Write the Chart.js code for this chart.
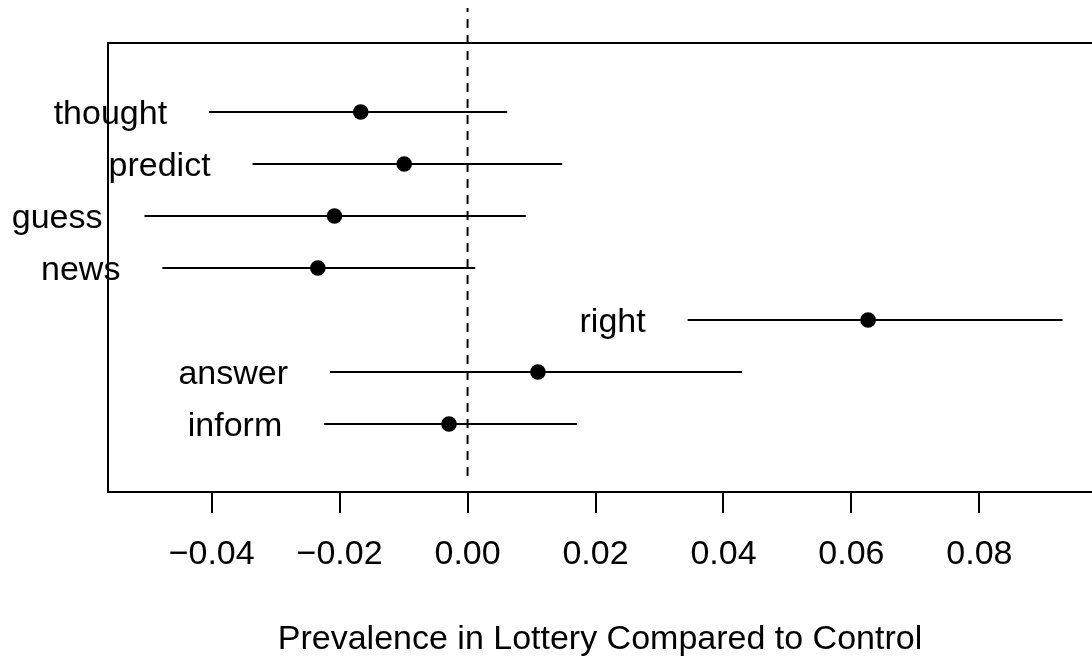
<!DOCTYPE html>
<html><head><meta charset="utf-8">
<script src="https://cdn.jsdelivr.net/npm/chart.js@4.4.1/dist/chart.umd.min.js"></script>
<style>html,body{margin:0;padding:0;overflow:hidden;background:#fff}</style>
</head><body>
<canvas id="c" width="1092" height="661" style="display:block;width:1092px;height:661px"></canvas>
<script>
const terms = ['thought', 'predict', 'guess', 'news', 'right', 'answer', 'inform'];
const estimates = [-0.0167, -0.0099, -0.0208, -0.0234, 0.0626, 0.0110, -0.0029];
const lowerCI = [-0.0404, -0.0336, -0.0505, -0.0477, 0.0344, -0.0215, -0.0224];
const upperCI = [0.0062, 0.0148, 0.0091, 0.0012, 0.0930, 0.0429, 0.0171];
const tickValues = [-0.04, -0.02, 0, 0.02, 0.04, 0.06, 0.08];
const tickLabels = ['\u22120.04', '\u22120.02', '0.00', '0.02', '0.04', '0.06', '0.08'];
const xTitle = 'Prevalence in Lottery Compared to Control';
const zeroLineX = 0;
const zeroLineYRange = [0, 9];

const rows = terms.map((_, i) => terms.length - i);
const FONT = '"Liberation Sans", Arial, Helvetica, sans-serif';

const intervalSets = terms.map((t, i) => ({
  label: t,
  data: [{x: lowerCI[i], y: rows[i]}, {x: upperCI[i], y: rows[i]}],
  showLine: true, borderColor: '#000', borderWidth: 2, pointRadius: 0
}));
const pointSet = {
  label: 'estimate',
  data: estimates.map((v, i) => ({x: v, y: rows[i]})),
  pointRadius: 7.8, pointBackgroundColor: '#000', pointBorderWidth: 0, showLine: false
};
const zeroSet = {
  label: 'zero',
  data: [{x: zeroLineX, y: zeroLineYRange[0]}, {x: zeroLineX, y: zeroLineYRange[1]}],
  showLine: true, borderColor: '#000', borderWidth: 2, borderDash: [9, 7], pointRadius: 0, clip: false
};

const annot = {
  id: 'annot',
  beforeDatasetsDraw(chart) {
    const {ctx, chartArea: a, width} = chart;
    ctx.save();
    ctx.strokeStyle = '#000';
    ctx.lineWidth = 2;
    ctx.beginPath();
    ctx.moveTo(width + 2, a.top);
    ctx.lineTo(a.left, a.top);
    ctx.lineTo(a.left, a.bottom);
    ctx.lineTo(width + 2, a.bottom);
    ctx.stroke();
    ctx.restore();
  },
  afterDatasetsDraw(chart) {
    const {ctx} = chart;
    const xs = chart.scales.x, ys = chart.scales.y;
    ctx.save();
    ctx.fillStyle = '#000';
    ctx.font = '34px ' + FONT;
    ctx.textAlign = 'right';
    ctx.textBaseline = 'alphabetic';
    terms.forEach((t, i) => {
      ctx.fillText(t, xs.getPixelForValue(lowerCI[i]) - 42, ys.getPixelForValue(rows[i]) + 12);
    });
    ctx.restore();
  }
};

new Chart(document.getElementById('c'), {
  type: 'scatter',
  data: {datasets: [...intervalSets, zeroSet, pointSet]},
  options: {
    responsive: false,
    maintainAspectRatio: false,
    animation: false,
    layout: {autoPadding: false, padding: {left: 108, top: 43, right: 0, bottom: 0}},
    plugins: {legend: {display: false}, tooltip: {enabled: false}},
    scales: {
      x: {
        type: 'linear', position: 'bottom', min: -0.0562, max: 0.0976,
        afterBuildTicks: s => { s.ticks = tickValues.map(v => ({value: v})); },
        afterFit: s => { s.height = 169; },
        ticks: {
          callback: (v, i) => tickLabels[i],
          font: {family: FONT, size: 34}, color: '#000',
          padding: 21, maxRotation: 0, autoSkip: false
        },
        grid: {drawOnChartArea: false, drawTicks: true, tickLength: 21, color: '#000', lineWidth: 2},
        border: {display: false},
        title: {display: true, text: xTitle, font: {family: FONT, size: 34}, color: '#000', padding: {top: 0, bottom: 1}}
      },
      y: {type: 'linear', min: -0.308, max: 8.327, display: false}
    }
  },
  plugins: [annot]
});
</script>
</body></html>
